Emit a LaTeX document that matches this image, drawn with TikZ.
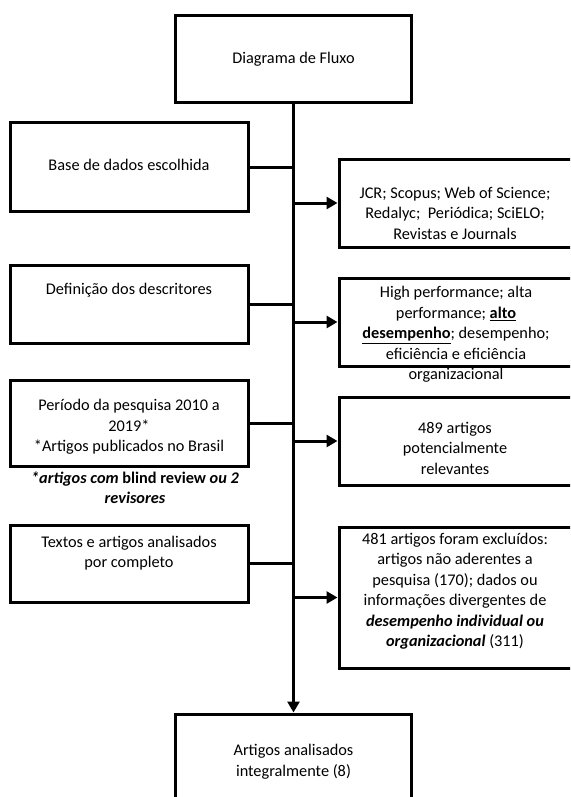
\documentclass[tikz,border=0pt]{standalone}
\usepackage{fontspec}
\setmainfont{Carlito}
\usetikzlibrary{arrows.meta}

\begin{document}
\begin{tikzpicture}[x=1pt,y=-1pt,
		caixa/.style={draw,line width=3pt,inner sep=0pt,minimum width=238pt},
		texto/.style={align=center,inner sep=0pt,font=\fontsize{16.3}{20.5}\selectfont},
		linie/.style={line width=3pt},
		pfeil/.style={line width=3pt,-{Triangle[length=11pt,width=12pt]}}]
				\clip (0,0) rectangle (570,797);
				% Kopf
				\node[caixa,minimum width=236pt,minimum height=87pt] (titulo) at (293.5,59.5) {};
				\node[texto] (titulo-t) at (293.5,59) {Diagrama de Fluxo};
				% linke Spalte
				\node[caixa,minimum height=88pt] (base) at (129,167) {};
				\node[texto] (base-t) at (129,165) {Base de dados escolhida};
				\node[caixa,minimum height=78pt] (descr) at (129,304) {};
				\node[texto] (descr-t) at (129,290) {Definição dos descritores};
				\node[caixa,minimum height=86pt] (periodo) at (129,423) {};
				\node[texto] (periodo-t) at (129,427) {Período da pesquisa 2010 a\\2019*\\*Artigos publicados no Brasil};
				\node[texto] (nota) at (135,487.5) {\textbf{\textit{*artigos com} blind review \textit{ou 2}}\\\textbf{\textit{revisores}}};
				\node[caixa,minimum height=77pt] (textos) at (129,563.5) {};
				\node[texto] (textos-t) at (129,553) {Textos e artigos analisados\\por completo};
				% rechte Spalte
				\node[caixa,minimum width=241pt,minimum height=88pt] (jcr) at (459.5,203) {};
				\node[texto] (jcr-t) at (455,213) {JCR; Scopus; Web of Science;\\Redalyc;\ \ Periódica; SciELO;\\Revistas e Journals};
				\node[caixa,minimum width=241pt,minimum height=88pt] (alto) at (459.5,322) {};
				\node[texto] (alto-t) at (456,334.5) {High performance; alta\\performance; \underline{\textbf{alto}}\\\underline{\textbf{desempenho}}; desempenho;\\eficiência e eficiência\\organizacional};
				\node[caixa,minimum width=241pt,minimum height=88pt] (relev) at (459.5,441) {};
				\node[texto] (relev-t) at (455,448) {489 artigos\\potencialmente\\relevantes};
				\node[caixa,minimum width=241pt,minimum height=141pt] (excl) at (459.5,597.5) {};
				\node[texto] (excl-t) at (455,591) {481 artigos foram excluídos:\\artigos não aderentes a\\pesquisa (170); dados ou\\informações divergentes de\\\textbf{\textit{desempenho individual ou}}\\\textbf{\textit{organizacional}} (311)};
				% Ende
				\node[caixa,minimum width=236pt,minimum height=116pt] (final) at (293.5,772) {};
				\node[texto] (final-t) at (293.5,761.5) {Artigos analisados\\integralmente (8)};
				% Stamm und Abzweige
				\draw[pfeil] (titulo.south) -- (final.north);
				\foreach \n in {base,descr,periodo,textos}
					\draw[linie] (\n.east) -- (\n.east -| titulo.south);
				\foreach \n in {jcr,alto,relev,excl}
					\draw[pfeil] (\n.west -| titulo.south) -- (\n.west);
			\end{tikzpicture}
\end{document}
